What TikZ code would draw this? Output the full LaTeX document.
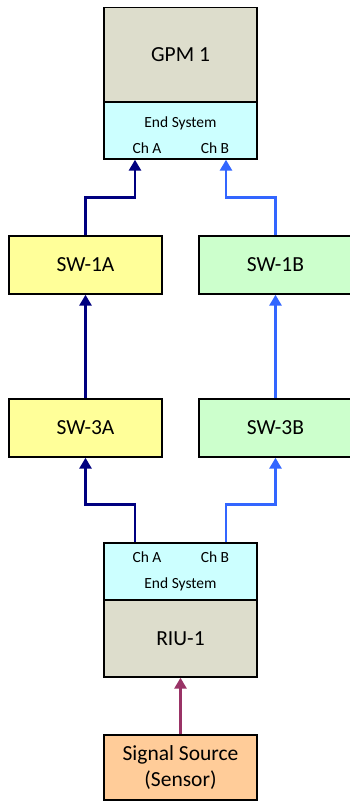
\documentclass[tikz,border=0pt]{standalone}
\usepackage{fontspec}
\setmainfont{Carlito}
\usetikzlibrary{arrows.meta}

\definecolor{unitfill}{RGB}{221,221,204}
\definecolor{esfill}{RGB}{204,255,255}
\definecolor{swafill}{RGB}{255,255,153}
\definecolor{swbfill}{RGB}{204,255,204}
\definecolor{srcfill}{RGB}{255,204,153}
\definecolor{chacol}{RGB}{0,0,128}
\definecolor{chbcol}{RGB}{51,102,255}
\definecolor{srccol}{RGB}{153,51,102}

\begin{document}
\begin{tikzpicture}[x=1pt,y=-1pt,
    box/.style={rectangle,draw,line width=1.4pt,inner sep=0pt,minimum width=153pt},
    big/.style={font=\fontsize{21.5}{26}\selectfont},
    small/.style={font=\fontsize{15.5}{18}\selectfont,inner sep=0pt},
    link/.style={line width=2.8pt,-{Triangle[length=11pt,width=12pt]}}]

      \useasboundingbox (0,0) rectangle (349,802);

      \begin{scope}[every node/.style={box,big}]
        \node[fill=unitfill,minimum height=95pt] (gpm) at (180.5,55) {GPM 1};
        \node[fill=esfill,minimum height=57pt] (gpmes) at (180.5,130.5) {};
        \node[fill=swafill,minimum height=58pt] (sw1a) at (85.5,265) {SW-1A};
        \node[fill=swbfill,minimum height=58pt] (sw1b) at (275.5,265) {SW-1B};
        \node[fill=swafill,minimum height=58pt] (sw3a) at (85.5,428) {SW-3A};
        \node[fill=swbfill,minimum height=58pt] (sw3b) at (275.5,428) {SW-3B};
        \node[fill=esfill,minimum height=57pt] (riues) at (180.5,571.5) {};
        \node[fill=unitfill,minimum height=77pt] (riu) at (180.5,638.5) {RIU-1};
        \node[fill=srcfill,minimum height=65pt,align=center] (src) at (180.5,767.5) {Signal Source\\(Sensor)};
      \end{scope}

      \begin{scope}[every node/.style={small}]
        \node (gpmtxt) at (180.5,123) {End System};
        \node (gpmcha) at (147,148) {Ch A};
        \node (gpmchb) at (215,148) {Ch B};
        \node (riucha) at (147,557) {Ch A};
        \node (riuchb) at (215,557) {Ch B};
        \node (riutxt) at (180.5,584) {End System};
      \end{scope}

      \begin{scope}[every path/.style={link}]
        \draw[chacol] ([xshift=-45.5pt]riues.north) -- ++(0,-38) -| (sw3a.south);
        \draw[chbcol] ([xshift=45.5pt]riues.north) -- ++(0,-38) -| (sw3b.south);
        \draw[chacol] (sw3a.north) -- (sw1a.south);
        \draw[chbcol] (sw3b.north) -- (sw1b.south);
        \draw[chacol] (sw1a.north) -- ++(0,-38) -| ([xshift=-45.5pt]gpmes.south);
        \draw[chbcol] (sw1b.north) -- ++(0,-38) -| ([xshift=45.5pt]gpmes.south);
        \draw[srccol] (src.north) -- (riu.south);
      \end{scope}

    \end{tikzpicture}
\end{document}
